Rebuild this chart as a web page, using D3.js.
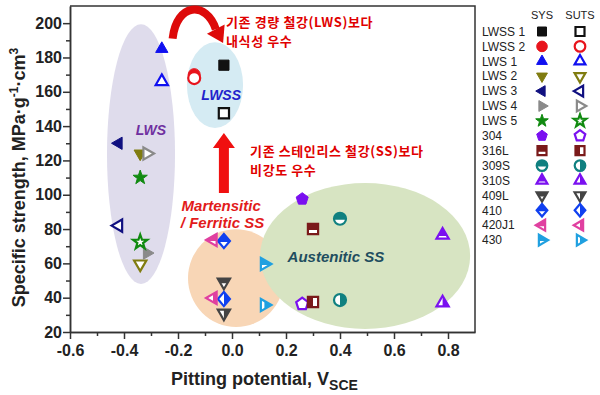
<!DOCTYPE html>
<html>
<head>
<meta charset="utf-8">
<script src="https://cdn.jsdelivr.net/npm/d3@7"></script>
<style>
  body { margin: 0; background: #fff; }
  svg { display: block; font-family: "Liberation Sans", Arial, sans-serif; }
</style>
</head>
<body>
<div id="chart"></div>
<script>
// materials, in legend order
var materials = ['LWSS 1', 'LWSS 2', 'LWS 1', 'LWS 2', 'LWS 3', 'LWS 4', 'LWS 5', '304', '316L', '309S', '310S', '409L', '410', '420J1', '430'];
// pitting potential (V_SCE)
var pitting = [-0.03, -0.14, -0.26, -0.34, -0.42, -0.315, -0.34, 0.26, 0.30, 0.40, 0.78, -0.03, -0.03, -0.07, 0.12];
// specific yield strength / specific UTS (MPa.g-1.cm3)
var sysStrength = [175.5, 170, 185, 124, 130, 66, 110, 97.5, 80, 86, 76.5, 49, 73, 73.6, 59.6];
var sutsStrength = [147.5, 168, 166, 59.6, 82, 124, 72.4, 36.3, 37.5, 38.6, 37, 31, 39.2, 39.8, 35.7];

var colors = ['#111111', '#e8141c', '#1010f0', '#807c10', '#101080', '#8a8a8a', '#108a10', '#7a10f0', '#7a1a1a', '#108080', '#7a10f0', '#444444', '#1040f0', '#e040a0', '#20a0e0'];
var shapes = ['square', 'circle', 'triUp', 'triDown', 'triLeft', 'triRight', 'star', 'pentagon', 'square', 'circle', 'triUp', 'triDown', 'diamond', 'triLeft', 'triRight'];
var sysFill = ['solid', 'solid', 'solid', 'solid', 'solid', 'solid', 'solid', 'solid', 'top', 'top', 'top', 'top', 'top', 'top', 'top'];
var sutsFill = ['open', 'open', 'open', 'open', 'open', 'open', 'open', 'open', 'left', 'right', 'right', 'right', 'right', 'right', 'right'];

// shaded groups
var regionNames = ['LWS', 'LWSS', 'Martensitic', 'Austenitic'];
var regionCx = [-0.337, -0.063, 0.015, 0.493];
var regionCy = [123.7, 163.9, 51.4, 64.3];
var regionRx = [0.126, 0.104, 0.178, 0.389];
var regionRy = [75.7, 25, 28.5, 42.5];
var regionColors = ['#dfdcec', '#d5ebf3', '#f8d6b6', '#d7e4c2'];

var xTicks = [-0.6, -0.4, -0.2, 0.0, 0.2, 0.4, 0.6, 0.8];
var yTicks = [20, 40, 60, 80, 100, 120, 140, 160, 180, 200];

var width = 600, height = 395;
var margin = {left: 70, right: 125, top: 6, bottom: 63};

var svg = d3.select('#chart').append('svg')
  .attr('width', width).attr('height', height);

var defs = svg.append('defs');
defs.append('clipPath').attr('id', 'clip-top').append('rect').attr('x', -20).attr('y', -20).attr('width', 40).attr('height', 21);
defs.append('clipPath').attr('id', 'clip-right').append('rect').attr('x', 0).attr('y', -20).attr('width', 20).attr('height', 40);
defs.append('clipPath').attr('id', 'clip-left').append('rect').attr('x', -20).attr('y', -20).attr('width', 20).attr('height', 40);

var x = d3.scaleLinear().domain([-0.6, 0.9]).range([margin.left, width - margin.right]);
var y = d3.scaleLinear().domain([20, 210]).range([height - margin.bottom, margin.top]);

// background ellipses
svg.selectAll('ellipse.region')
  .data(regionNames)
  .enter()
  .append('ellipse')
  .attr('cx', function(d, i) { return x(regionCx[i]); })
  .attr('cy', function(d, i) { return y(regionCy[i]); })
  .attr('rx', function(d, i) { return x(regionRx[i]) - x(0); })
  .attr('ry', function(d, i) { return y(0) - y(regionRy[i]); })
  .attr('fill', function(d, i) { return regionColors[i]; });

// region labels
function label(txt, xv, yv, color, size) {
  svg.append('text').attr('x', x(xv)).attr('y', y(yv))
    .attr('text-anchor', 'middle').attr('dominant-baseline', 'central')
    .style('font-weight', 'bold').style('font-style', 'italic')
    .style('font-size', size + 'px').attr('fill', color).text(txt);
}
label('LWS', -0.30, 138, '#7030a0', 14);
label('LWSS', -0.04, 158, '#2222cc', 14);
label('Martensitic', -0.04, 94, '#e21b1b', 15);
label('/ Ferritic SS', -0.035, 84, '#e21b1b', 15);
label('Austenitic SS', 0.385, 64, '#1f4e5f', 15);

// axes
var xAxis = svg.append('g').attr('transform', 'translate(0,' + y(20) + ')')
  .call(d3.axisBottom(x).tickValues(xTicks).tickSize(7).tickSizeOuter(0).tickFormat(function(d) { return d.toFixed(1); }));
svg.append('g').attr('transform', 'translate(0,' + y(20) + ')')
  .call(d3.axisBottom(x).tickValues(d3.range(-0.5, 0.9, 0.2)).tickSize(4).tickSizeOuter(0).tickFormat(''));
var yAxis = svg.append('g').attr('transform', 'translate(' + x(-0.6) + ',0)')
  .call(d3.axisLeft(y).tickValues(yTicks).tickSize(7).tickSizeOuter(0));
svg.append('g').attr('transform', 'translate(' + x(-0.6) + ',0)')
  .call(d3.axisLeft(y).tickValues(d3.range(30, 210, 20)).tickSize(4).tickSizeOuter(0).tickFormat(''));

svg.selectAll('.domain, .tick line').attr('stroke', '#333').attr('stroke-width', 1.5);
svg.selectAll('.tick text').attr('fill', '#222')
  .style('font-size', '16px').style('font-weight', 'bold')
  .style('font-family', '"Liberation Sans", Arial, sans-serif');
xAxis.selectAll('.tick text').attr('dy', '0.9em');
yAxis.selectAll('.tick text').attr('x', -8);

// top and right frame
svg.append('path')
  .attr('d', 'M' + x(-0.6) + ',' + y(210) + 'H' + x(0.9) + 'V' + y(20))
  .attr('fill', 'none').attr('stroke', '#333').attr('stroke-width', 1.5);

// axis titles
var xt = svg.append('text').attr('x', x(0.15) - 8).attr('y', 385).attr('text-anchor', 'middle')
  .style('font-size', '18px').style('font-weight', 'bold').attr('fill', '#222');
xt.append('tspan').text('Pitting potential, V');
xt.append('tspan').attr('dy', 5).style('font-size', '14px').text('SCE');

var yt = svg.append('text').attr('transform', 'translate(25,' + y(110) + ') rotate(-90)')
  .attr('text-anchor', 'middle')
  .style('font-size', '18px').style('font-weight', 'bold').attr('fill', '#222');
yt.append('tspan').text('Specific strength, MPa\u00b7g');
yt.append('tspan').attr('dy', -7).style('font-size', '12px').text('-1');
yt.append('tspan').attr('dy', 7).text('\u00b7cm');
yt.append('tspan').attr('dy', -7).style('font-size', '12px').text('3');

// marker helpers
function symbolPath(shape, r) {
  var R = r * 1.18, pts;
  if (shape === 'circle') {
    return 'M' + (-r) + ',0A' + r + ',' + r + ' 0 1,0 ' + r + ',0A' + r + ',' + r + ' 0 1,0 ' + (-r) + ',0Z';
  }
  if (shape === 'square') { var s = r * 0.85; pts = [[-s, -s], [s, -s], [s, s], [-s, s]]; }
  if (shape === 'triUp') pts = [[0, -R], [R * 0.866, R * 0.5], [-R * 0.866, R * 0.5]];
  if (shape === 'triDown') pts = [[0, R], [R * 0.866, -R * 0.5], [-R * 0.866, -R * 0.5]];
  if (shape === 'triLeft') pts = [[-R, 0], [R * 0.5, -R * 0.866], [R * 0.5, R * 0.866]];
  if (shape === 'triRight') pts = [[R, 0], [-R * 0.5, -R * 0.866], [-R * 0.5, R * 0.866]];
  if (shape === 'diamond') pts = [[0, -R], [R * 0.85, 0], [0, R], [-R * 0.85, 0]];
  if (shape === 'pentagon') {
    pts = d3.range(5).map(function(k) { var a = -Math.PI / 2 + k * 2 * Math.PI / 5; return [r * 1.05 * Math.cos(a), r * 1.05 * Math.sin(a)]; });
  }
  if (shape === 'star') {
    pts = d3.range(10).map(function(k) { var a = -Math.PI / 2 + k * Math.PI / 5, rr = k % 2 ? r * 0.5 : r * 1.25; return [rr * Math.cos(a), rr * Math.sin(a)]; });
  }
  return 'M' + pts.map(function(p) { return p[0].toFixed(2) + ',' + p[1].toFixed(2); }).join('L') + 'Z';
}

function drawMarker(g, shape, color, mode, r) {
  var d = symbolPath(shape, r);
  if (mode === 'solid') {
    g.append('path').attr('d', d).attr('fill', color).attr('stroke', color).attr('stroke-width', 1);
    return;
  }
  g.append('path').attr('d', d).attr('fill', '#fff');
  if (mode !== 'open') {
    g.append('path').attr('d', d).attr('fill', color).attr('clip-path', 'url(#clip-' + mode + ')');
  }
  g.append('path').attr('d', d).attr('fill', 'none').attr('stroke', color).attr('stroke-width', 2.2);
}

// data points: SYS first, SUTS drawn over it
var pts = svg.append('g');
materials.forEach(function(m, i) {
  var g1 = pts.append('g').attr('transform', 'translate(' + x(pitting[i]) + ',' + y(sysStrength[i]) + ')');
  drawMarker(g1, shapes[i], colors[i], sysFill[i], 6);
  var g2 = pts.append('g').attr('transform', 'translate(' + x(pitting[i]) + ',' + y(sutsStrength[i]) + ')');
  drawMarker(g2, shapes[i], colors[i], sutsFill[i], 6);
});

// curved arrow (LWS -> LWSS)
var red = '#dd0a0a';
var a0 = [x(-0.22), y(191)], c1 = [x(-0.205), y(212)], c2 = [x(-0.095), y(213)], a1 = [x(-0.06), y(196.5)], tip = [x(-0.033), y(188.5)];
svg.append('path')
  .attr('d', 'M' + a0 + 'C' + c1 + ' ' + c2 + ' ' + a1)
  .attr('fill', 'none').attr('stroke', red).attr('stroke-width', 8);
(function() {
  var dx = tip[0] - a1[0], dy = tip[1] - a1[1], L = Math.sqrt(dx * dx + dy * dy);
  var px = -dy / L * 10, py = dx / L * 10;
  svg.append('path')
    .attr('d', 'M' + tip + 'L' + [a1[0] + px, a1[1] + py] + 'L' + [a1[0] - px, a1[1] - py] + 'Z')
    .attr('fill', red);
})();

// vertical arrow (SS -> LWSS)
var vx = x(-0.03), vTop = y(136), vBot = y(101);
svg.append('path')
  .attr('d', 'M' + vx + ',' + vTop + 'L' + (vx + 11) + ',' + (vTop + 15) + 'L' + (vx + 5) + ',' + (vTop + 15) +
    'L' + (vx + 5) + ',' + vBot + 'L' + (vx - 5) + ',' + vBot + 'L' + (vx - 5) + ',' + (vTop + 15) +
    'L' + (vx - 11) + ',' + (vTop + 15) + 'Z')
  .attr('fill', '#f01010');

// Korean annotations
function note(lines, xv, yv) {
  lines.forEach(function(l, k) {
    svg.append('text').attr('x', x(xv)).attr('y', y(yv) + k * 19)
      .style('font-family', '"Noto Sans CJK KR", sans-serif')
      .style('font-size', '13px').style('font-weight', 'bold').style('letter-spacing', '0.6px')
      .attr('fill', '#e00000')
      .text(l);
  });
}
note(['기존 경량 철강(LWS)보다', '내식성 우수'], -0.022, 198);
note(['기존 스테인리스 철강(SS)보다', '비강도 우수'], 0.067, 122.3);

// legend
var legX = 482, legY0 = 31.5, legDy = 14.9, symSys = 542, symSuts = 580;
svg.append('text').attr('x', symSys).attr('y', 19).attr('text-anchor', 'middle')
  .style('font-size', '11px').attr('fill', '#222').text('SYS');
svg.append('text').attr('x', symSuts).attr('y', 19).attr('text-anchor', 'middle')
  .style('font-size', '11px').attr('fill', '#222').text('SUTS');

var leg = svg.selectAll('g.leg')
  .data(materials)
  .enter()
  .append('g')
  .attr('class', 'leg')
  .attr('transform', function(d, i) { return 'translate(0,' + (legY0 + i * legDy) + ')'; });
leg.append('text').attr('x', legX).attr('dy', '0.35em')
  .style('font-size', '12px').attr('fill', '#222').text(function(d) { return d; });
leg.each(function(d, i) {
  var g = d3.select(this);
  drawMarker(g.append('g').attr('transform', 'translate(' + symSys + ',0)'), shapes[i], colors[i], sysFill[i], 5.3);
  drawMarker(g.append('g').attr('transform', 'translate(' + symSuts + ',0)'), shapes[i], colors[i], sutsFill[i], 5.3);
});
</script>
</body>
</html>
